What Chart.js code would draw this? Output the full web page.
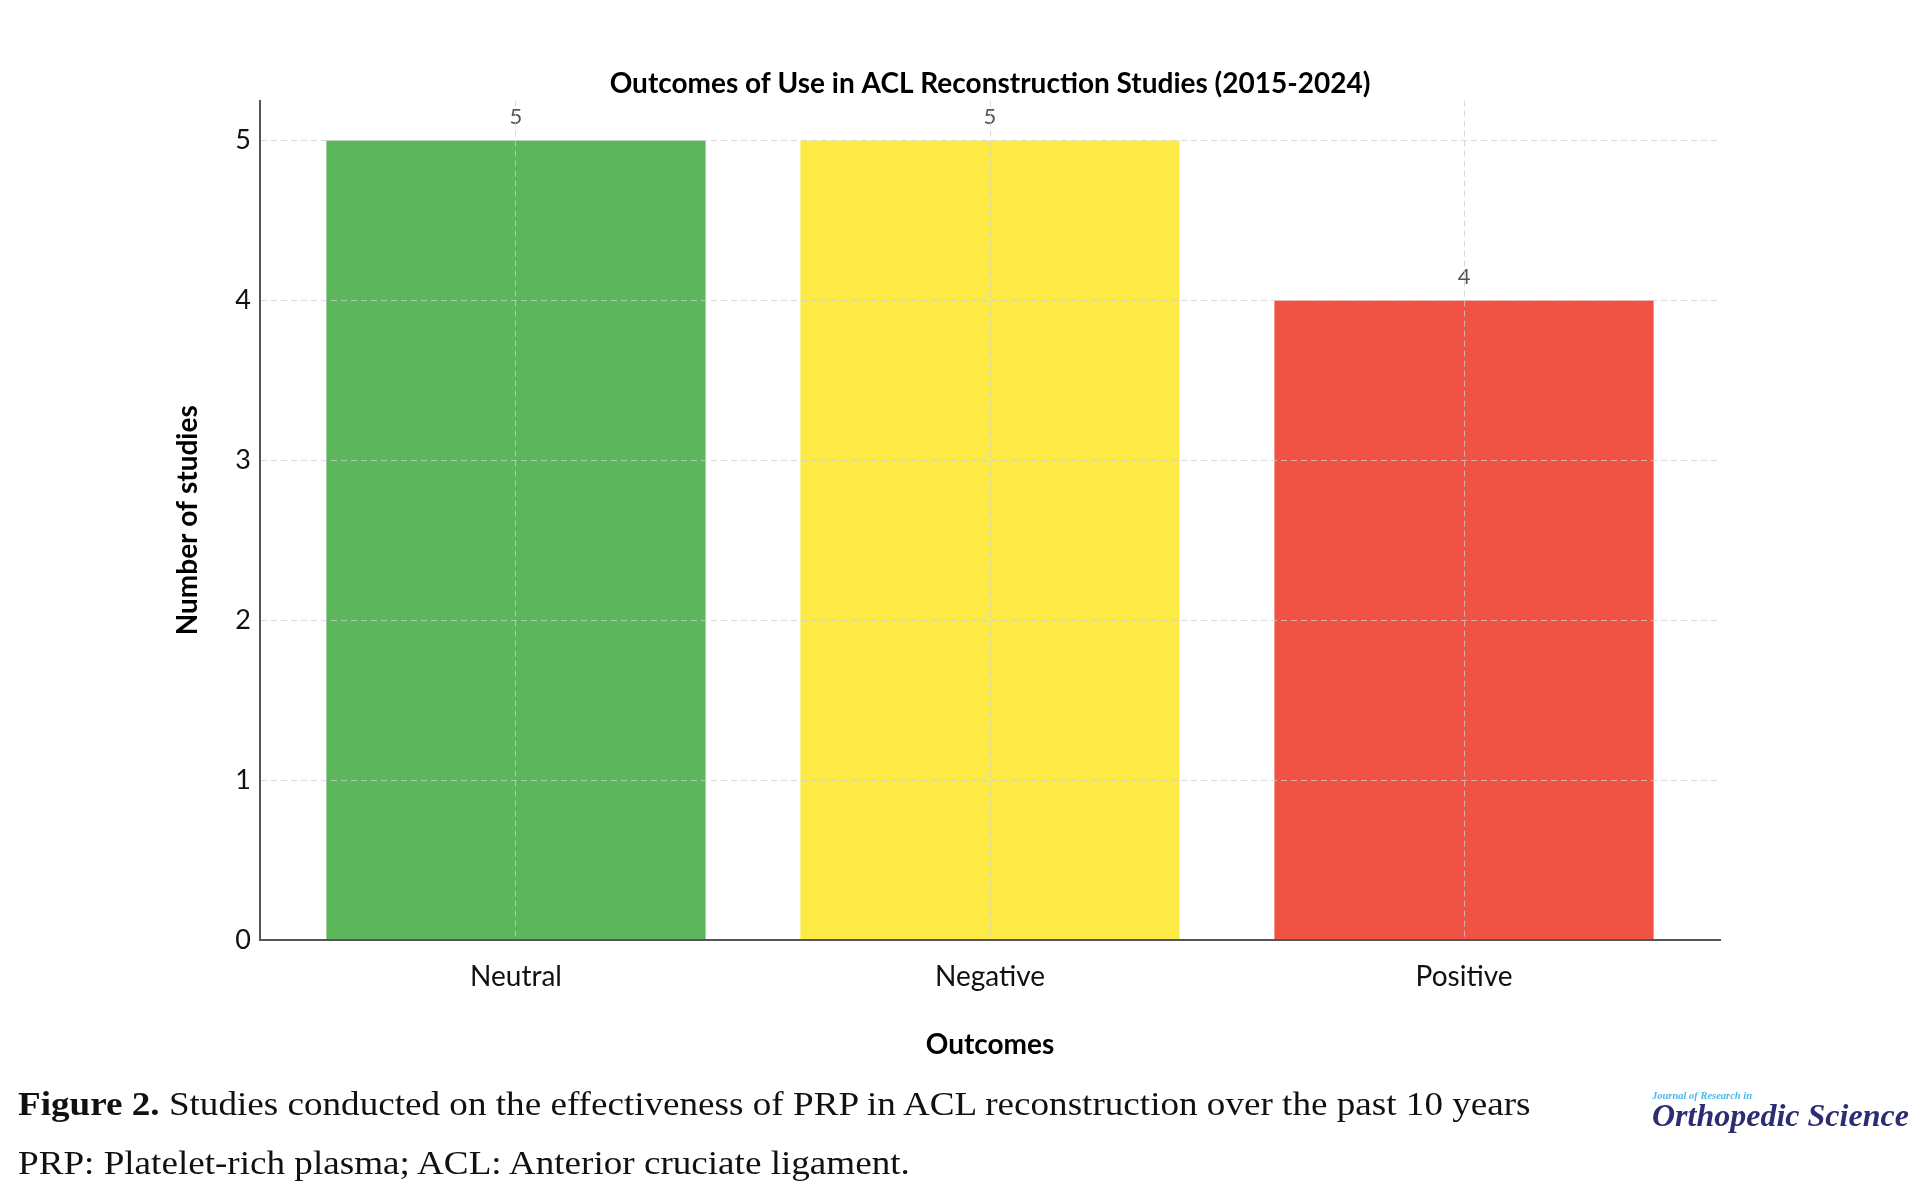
<!DOCTYPE html>
<html>
<head>
<meta charset="utf-8">
<script src="https://cdn.jsdelivr.net/npm/chart.js@4.4.1/dist/chart.umd.min.js"></script>
<style>
  body { margin: 0; background: #fff; }
  #wrap { position: relative; width: 1928px; height: 1198px; overflow: hidden; }
  #chart { position: absolute; left: 0; top: 0; }
  .cap { position: absolute; left: 18px; font-family: "Liberation Serif", serif; font-size: 33px; color: #111; white-space: nowrap; transform: scaleX(1.125); transform-origin: left top; }
  .logo { position: absolute; left: 1652px; font-family: "Liberation Serif", serif; font-style: italic; font-weight: bold; white-space: nowrap; }
</style>
</head>
<body>
<div id="wrap">
  <canvas id="chart" width="1928" height="1198" style="width:1928px;height:1198px"></canvas>
  <div class="cap" style="top:1086px"><b>Figure 2.</b> Studies conducted on the effectiveness of PRP in ACL reconstruction over the past 10 years</div>
  <div class="cap" style="top:1145px">PRP: Platelet-rich plasma; ACL: Anterior cruciate ligament.</div>
  <div class="logo" style="top:1090px;font-size:10.5px;color:#4db8e8">Journal of Research in</div>
  <div class="logo" style="top:1097px;font-size:32px;color:#2e2d74">Orthopedic Science</div>
</div>
<script>
const outcomes    = ["Neutral", "Negative", "Positive"];
const studyCounts = [5, 5, 4];
const barColors   = ["#5cb65c", "#fdea45", "#f05343"];
const yTicks      = [0, 1, 2, 3, 4, 5];

const gridColor = "rgba(205,205,205,0.75)";

// numbers above the bars
const valueLabels = {
  id: "valueLabels",
  afterDatasetsDraw(chart) {
    const ctx = chart.ctx;
    const meta = chart.getDatasetMeta(0);
    ctx.save();
    ctx.font = "22px Lato";
    ctx.fillStyle = "#555";
    ctx.textAlign = "center";
    ctx.textBaseline = "middle";
    meta.data.forEach((bar, i) => {
      ctx.fillText(String(studyCounts[i]), bar.x, bar.y - 24);
    });
    ctx.restore();
  }
};

new Chart(document.getElementById("chart").getContext("2d"), {
  type: "bar",
  data: {
    datasets: [{
      data: outcomes.map((o, i) => ({ x: i, y: studyCounts[i] })),
      backgroundColor: barColors,
      borderWidth: 0,
      categoryPercentage: 1,
      barPercentage: 0.8
    }]
  },
  options: {
    responsive: false,
    animation: false,
    devicePixelRatio: 1,
    layout: { padding: { left: 171, right: 208, top: 0, bottom: 136 } },
    plugins: {
      legend: { display: false },
      tooltip: { enabled: false },
      title: {
        display: true,
        fullSize: false,
        text: "Outcomes of Use in ACL Reconstruction Studies (2015-2024)",
        font: { family: "Lato", weight: "bold", size: 28 },
        color: "#000",
        padding: { top: 67, bottom: 0 }
      }
    },
    scales: {
      x: {
        type: "linear",
        min: -0.54,
        max: 2.54,
        offset: false,
        afterBuildTicks: s => { s.ticks = outcomes.map((o, i) => ({ value: i })); },
        afterFit: s => { s.height = 122; },
        ticks: {
          callback: v => outcomes[v],
          font: { family: "Lato", size: 28 },
          color: "#111",
          padding: 20,
          maxRotation: 0
        },
        grid: { offset: false, color: gridColor, z: 1, drawTicks: false },
        border: { display: true, color: "#555", width: 2, dash: [6, 4], z: 2 },
        title: {
          display: true,
          text: "Outcomes",
          font: { family: "Lato", weight: "bold", size: 28 },
          color: "#000",
          padding: 0
        }
      },
      y: {
        min: 0,
        max: 5.25,
        afterBuildTicks: s => { s.ticks = yTicks.map(v => ({ value: v })); },
        afterFit: s => { s.width = 89; },
        ticks: {
          font: { family: "Lato", size: 27 },
          color: "#111",
          padding: 9
        },
        grid: { color: gridColor, z: 1, drawTicks: false },
        border: { display: true, color: "#555", width: 2, dash: [6, 4], z: 2 },
        title: {
          display: true,
          text: "Number of studies",
          font: { family: "Lato", weight: "bold", size: 28 },
          color: "#000",
          padding: 0
        }
      }
    }
  },
  plugins: [valueLabels]
});
</script>
</body>
</html>
